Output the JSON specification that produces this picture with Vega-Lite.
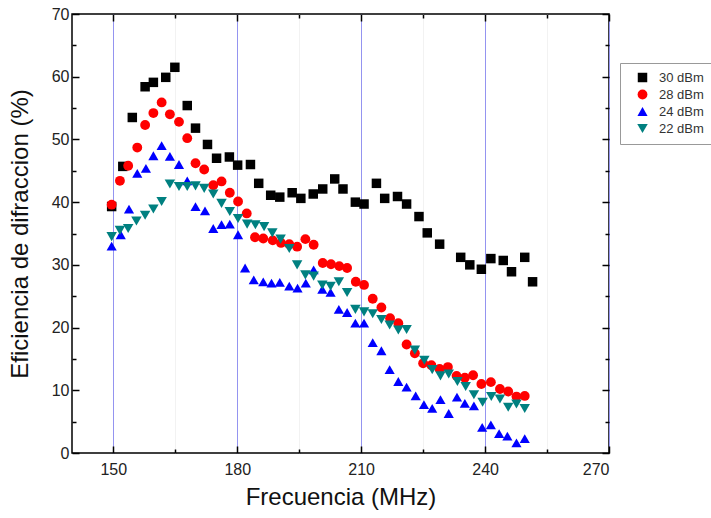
{
  "$schema": "https://vega.github.io/schema/vega-lite/v6.json",
  "width": 537,
  "height": 439,
  "autosize": {"type": "none"},
  "padding": {"left": 72, "top": 14, "right": 102, "bottom": 65},
  "background": "white",
  "config": {
    "view": {"stroke": "black", "strokeWidth": 1.5},
    "font": "Liberation Sans"
  },
  "resolve": {"axis": {"x": "independent", "y": "independent"}},
  "layer": [
    {
      "data": {"values": [
        {"f":149.6,"e":39.3,"s":"30 dBm"},{"f":152.3,"e":45.7,"s":"30 dBm"},{"f":154.6,"e":53.5,"s":"30 dBm"},{"f":157.7,"e":58.4,"s":"30 dBm"},{"f":159.7,"e":59.1,"s":"30 dBm"},{"f":162.7,"e":59.9,"s":"30 dBm"},{"f":164.9,"e":61.5,"s":"30 dBm"},{"f":167.9,"e":55.4,"s":"30 dBm"},{"f":169.9,"e":51.8,"s":"30 dBm"},{"f":172.8,"e":49.2,"s":"30 dBm"},{"f":175.0,"e":47.0,"s":"30 dBm"},{"f":178.1,"e":47.2,"s":"30 dBm"},{"f":180.1,"e":45.9,"s":"30 dBm"},{"f":183.2,"e":46.0,"s":"30 dBm"},{"f":185.2,"e":43.0,"s":"30 dBm"},{"f":188.1,"e":41.1,"s":"30 dBm"},{"f":190.3,"e":40.8,"s":"30 dBm"},{"f":193.3,"e":41.5,"s":"30 dBm"},{"f":195.4,"e":40.6,"s":"30 dBm"},{"f":198.4,"e":41.3,"s":"30 dBm"},{"f":200.7,"e":42.1,"s":"30 dBm"},{"f":203.6,"e":43.7,"s":"30 dBm"},{"f":205.6,"e":42.1,"s":"30 dBm"},{"f":208.6,"e":40.0,"s":"30 dBm"},{"f":210.7,"e":39.7,"s":"30 dBm"},{"f":213.7,"e":43.0,"s":"30 dBm"},{"f":215.7,"e":40.6,"s":"30 dBm"},{"f":218.8,"e":40.9,"s":"30 dBm"},{"f":221.0,"e":39.7,"s":"30 dBm"},{"f":224.0,"e":37.7,"s":"30 dBm"},{"f":226.0,"e":35.1,"s":"30 dBm"},{"f":229.0,"e":33.3,"s":"30 dBm"},{"f":234.1,"e":31.2,"s":"30 dBm"},{"f":236.3,"e":30.0,"s":"30 dBm"},{"f":239.1,"e":29.3,"s":"30 dBm"},{"f":241.4,"e":31.0,"s":"30 dBm"},{"f":244.4,"e":30.7,"s":"30 dBm"},{"f":246.4,"e":28.9,"s":"30 dBm"},{"f":249.6,"e":31.2,"s":"30 dBm"},{"f":251.5,"e":27.3,"s":"30 dBm"},

        {"f":149.6,"e":39.6,"s":"28 dBm"},{"f":151.6,"e":43.4,"s":"28 dBm"},{"f":153.6,"e":45.8,"s":"28 dBm"},{"f":155.8,"e":48.7,"s":"28 dBm"},{"f":157.7,"e":52.3,"s":"28 dBm"},{"f":159.7,"e":54.2,"s":"28 dBm"},{"f":161.7,"e":55.9,"s":"28 dBm"},{"f":163.7,"e":54.0,"s":"28 dBm"},{"f":165.9,"e":52.8,"s":"28 dBm"},{"f":167.9,"e":50.2,"s":"28 dBm"},{"f":169.9,"e":46.2,"s":"28 dBm"},{"f":172.0,"e":45.2,"s":"28 dBm"},{"f":174.2,"e":42.7,"s":"28 dBm"},{"f":176.2,"e":43.3,"s":"28 dBm"},{"f":178.2,"e":41.5,"s":"28 dBm"},{"f":180.2,"e":40.1,"s":"28 dBm"},{"f":182.3,"e":38.2,"s":"28 dBm"},{"f":184.3,"e":34.4,"s":"28 dBm"},{"f":186.3,"e":34.2,"s":"28 dBm"},{"f":188.6,"e":33.9,"s":"28 dBm"},{"f":190.6,"e":33.5,"s":"28 dBm"},{"f":192.6,"e":33.3,"s":"28 dBm"},{"f":194.5,"e":32.9,"s":"28 dBm"},{"f":196.5,"e":34.1,"s":"28 dBm"},{"f":198.5,"e":33.2,"s":"28 dBm"},{"f":200.7,"e":30.3,"s":"28 dBm"},{"f":202.7,"e":30.1,"s":"28 dBm"},{"f":204.7,"e":29.8,"s":"28 dBm"},{"f":206.6,"e":29.5,"s":"28 dBm"},{"f":208.7,"e":27.3,"s":"28 dBm"},{"f":210.7,"e":26.8,"s":"28 dBm"},{"f":212.8,"e":24.6,"s":"28 dBm"},{"f":214.9,"e":23.2,"s":"28 dBm"},{"f":217.0,"e":21.5,"s":"28 dBm"},{"f":219.0,"e":20.7,"s":"28 dBm"},{"f":221.0,"e":17.3,"s":"28 dBm"},{"f":223.0,"e":15.9,"s":"28 dBm"},{"f":225.0,"e":14.3,"s":"28 dBm"},{"f":227.0,"e":14.0,"s":"28 dBm"},{"f":229.0,"e":13.4,"s":"28 dBm"},{"f":231.0,"e":13.7,"s":"28 dBm"},{"f":233.1,"e":12.3,"s":"28 dBm"},{"f":235.1,"e":12.0,"s":"28 dBm"},{"f":237.1,"e":12.4,"s":"28 dBm"},{"f":239.1,"e":11.0,"s":"28 dBm"},{"f":241.4,"e":11.3,"s":"28 dBm"},{"f":243.6,"e":10.2,"s":"28 dBm"},{"f":245.6,"e":9.8,"s":"28 dBm"},{"f":247.6,"e":9.0,"s":"28 dBm"},{"f":249.6,"e":9.1,"s":"28 dBm"},

        {"f":149.6,"e":33.0,"s":"24 dBm"},{"f":151.8,"e":34.8,"s":"24 dBm"},{"f":153.8,"e":38.9,"s":"24 dBm"},{"f":155.8,"e":44.6,"s":"24 dBm"},{"f":157.9,"e":45.4,"s":"24 dBm"},{"f":159.7,"e":47.4,"s":"24 dBm"},{"f":161.7,"e":49.0,"s":"24 dBm"},{"f":163.7,"e":47.3,"s":"24 dBm"},{"f":165.9,"e":46.0,"s":"24 dBm"},{"f":167.9,"e":43.4,"s":"24 dBm"},{"f":169.9,"e":39.3,"s":"24 dBm"},{"f":172.2,"e":38.6,"s":"24 dBm"},{"f":174.2,"e":35.8,"s":"24 dBm"},{"f":176.2,"e":36.4,"s":"24 dBm"},{"f":178.2,"e":36.5,"s":"24 dBm"},{"f":180.2,"e":34.8,"s":"24 dBm"},{"f":181.9,"e":29.5,"s":"24 dBm"},{"f":184.0,"e":27.6,"s":"24 dBm"},{"f":186.3,"e":27.3,"s":"24 dBm"},{"f":188.3,"e":27.1,"s":"24 dBm"},{"f":190.3,"e":27.2,"s":"24 dBm"},{"f":192.6,"e":26.6,"s":"24 dBm"},{"f":194.6,"e":26.3,"s":"24 dBm"},{"f":196.6,"e":27.1,"s":"24 dBm"},{"f":198.5,"e":29.2,"s":"24 dBm"},{"f":200.6,"e":26.1,"s":"24 dBm"},{"f":202.6,"e":25.6,"s":"24 dBm"},{"f":204.6,"e":22.9,"s":"24 dBm"},{"f":206.6,"e":22.4,"s":"24 dBm"},{"f":208.6,"e":20.7,"s":"24 dBm"},{"f":210.7,"e":20.7,"s":"24 dBm"},{"f":212.8,"e":17.6,"s":"24 dBm"},{"f":214.9,"e":16.3,"s":"24 dBm"},{"f":216.9,"e":13.3,"s":"24 dBm"},{"f":219.0,"e":11.4,"s":"24 dBm"},{"f":221.0,"e":10.5,"s":"24 dBm"},{"f":223.2,"e":9.1,"s":"24 dBm"},{"f":225.2,"e":7.7,"s":"24 dBm"},{"f":227.2,"e":7.1,"s":"24 dBm"},{"f":229.2,"e":8.5,"s":"24 dBm"},{"f":231.2,"e":6.3,"s":"24 dBm"},{"f":233.2,"e":8.9,"s":"24 dBm"},{"f":235.1,"e":7.9,"s":"24 dBm"},{"f":237.3,"e":7.5,"s":"24 dBm"},{"f":239.3,"e":4.1,"s":"24 dBm"},{"f":241.4,"e":4.5,"s":"24 dBm"},{"f":243.4,"e":3.1,"s":"24 dBm"},{"f":245.4,"e":2.7,"s":"24 dBm"},{"f":247.6,"e":1.6,"s":"24 dBm"},{"f":249.6,"e":2.3,"s":"24 dBm"},

        {"f":149.6,"e":34.5,"s":"22 dBm"},{"f":151.6,"e":35.5,"s":"22 dBm"},{"f":153.6,"e":35.8,"s":"22 dBm"},{"f":155.6,"e":37.0,"s":"22 dBm"},{"f":157.7,"e":37.9,"s":"22 dBm"},{"f":159.7,"e":38.9,"s":"22 dBm"},{"f":161.7,"e":40.1,"s":"22 dBm"},{"f":163.7,"e":42.9,"s":"22 dBm"},{"f":165.9,"e":42.5,"s":"22 dBm"},{"f":167.9,"e":42.5,"s":"22 dBm"},{"f":169.9,"e":42.6,"s":"22 dBm"},{"f":172.0,"e":42.2,"s":"22 dBm"},{"f":174.2,"e":41.3,"s":"22 dBm"},{"f":176.2,"e":39.8,"s":"22 dBm"},{"f":178.2,"e":38.5,"s":"22 dBm"},{"f":180.2,"e":37.4,"s":"22 dBm"},{"f":182.4,"e":36.5,"s":"22 dBm"},{"f":184.4,"e":36.4,"s":"22 dBm"},{"f":186.5,"e":36.1,"s":"22 dBm"},{"f":188.5,"e":35.1,"s":"22 dBm"},{"f":190.5,"e":34.1,"s":"22 dBm"},{"f":192.6,"e":32.6,"s":"22 dBm"},{"f":194.5,"e":30.0,"s":"22 dBm"},{"f":196.5,"e":28.4,"s":"22 dBm"},{"f":198.5,"e":28.2,"s":"22 dBm"},{"f":200.6,"e":26.8,"s":"22 dBm"},{"f":202.6,"e":26.6,"s":"22 dBm"},{"f":204.6,"e":27.3,"s":"22 dBm"},{"f":206.6,"e":25.6,"s":"22 dBm"},{"f":208.6,"e":22.9,"s":"22 dBm"},{"f":210.7,"e":22.5,"s":"22 dBm"},{"f":212.8,"e":22.2,"s":"22 dBm"},{"f":214.9,"e":21.3,"s":"22 dBm"},{"f":216.9,"e":20.4,"s":"22 dBm"},{"f":219.0,"e":19.6,"s":"22 dBm"},{"f":221.0,"e":19.7,"s":"22 dBm"},{"f":223.0,"e":16.4,"s":"22 dBm"},{"f":225.3,"e":14.8,"s":"22 dBm"},{"f":227.2,"e":13.3,"s":"22 dBm"},{"f":229.2,"e":12.3,"s":"22 dBm"},{"f":231.2,"e":12.6,"s":"22 dBm"},{"f":233.3,"e":11.4,"s":"22 dBm"},{"f":235.3,"e":10.6,"s":"22 dBm"},{"f":237.3,"e":9.3,"s":"22 dBm"},{"f":239.4,"e":8.1,"s":"22 dBm"},{"f":241.5,"e":9.0,"s":"22 dBm"},{"f":243.6,"e":8.6,"s":"22 dBm"},{"f":245.6,"e":7.3,"s":"22 dBm"},{"f":247.6,"e":7.8,"s":"22 dBm"},{"f":249.6,"e":7.1,"s":"22 dBm"}
      ]},
      "mark": {"type": "point", "filled": true, "opacity": 1, "strokeWidth": 0},
      "encoding": {
        "x": {
          "field": "f", "type": "quantitative",
          "scale": {"domain": [140, 270], "nice": false, "zero": false},
          "axis": {
            "orient": "bottom",
            "title": "Frecuencia (MHz)",
            "titleFontSize": 24, "titleFontWeight": "normal", "titleColor": "#111", "titleFont": "Liberation Sans",
            "titlePadding": 8,
            "values": [150, 165, 180, 195, 210, 225, 240, 255, 270],
            "labelExpr": "datum.value % 30 === 0 ? datum.label : ''",
            "labelFontSize": 16, "labelColor": "#222", "labelFont": "Liberation Sans",
            "labelPadding": 15,
            "domain": false,
            "ticks": true,
            "tickColor": "black",
            "tickWidth": 1.5,
            "tickSize": {"condition": {"test": "datum.value % 30 === 0", "value": -7}, "value": -4},
            "grid": true,
            "gridColor": {"condition": {"test": "datum.value % 30 === 0", "value": "#9494f0"}, "value": "#f2f2f2"},
            "gridWidth": 1
          }
        },
        "y": {
          "field": "e", "type": "quantitative",
          "scale": {"domain": [0, 70], "nice": false, "zero": false},
          "axis": {
            "orient": "left",
            "title": "Eficiencia de difraccion (%)",
            "titleFontSize": 24, "titleFontWeight": "normal", "titleColor": "#111", "titleFont": "Liberation Sans",
            "titleX": -52,
            "titleY": 219.5,
            "titleBaseline": "middle",
            "titleAngle": -90,
            "titleAlign": "center",
            "values": [0, 5, 10, 15, 20, 25, 30, 35, 40, 45, 50, 55, 60, 65, 70],
            "labelExpr": "datum.value % 10 === 0 ? datum.label : ''",
            "labelFontSize": 16, "labelColor": "#222", "labelFont": "Liberation Sans",
            "labelPadding": 10,
            "domain": false,
            "tickColor": "black",
            "tickWidth": 1.5,
            "tickSize": {"condition": {"test": "datum.value % 10 === 0", "value": -7}, "value": -4},
            "grid": false
          }
        },
        "color": {
          "field": "s", "type": "nominal",
          "scale": {"domain": ["30 dBm", "28 dBm", "24 dBm", "22 dBm"], "range": ["#000000", "#ff0000", "#0000ff", "#008080"]},
          "legend": {
            "title": null,
            "orient": "none",
            "legendX": 548,
            "legendY": 49,
            "strokeColor": "#999",
            "fillColor": "white",
            "padding": 8,
            "labelFontSize": 13,
            "labelColor": "#333",
            "labelFont": "Liberation Sans",
            "symbolSize": 120,
            "symbolStrokeWidth": 0,
            "symbolOffset": 8,
            "labelOffset": 10,
            "rowPadding": 3
          }
        },
        "shape": {
          "field": "s", "type": "nominal",
          "scale": {"domain": ["30 dBm", "28 dBm", "24 dBm", "22 dBm"], "range": ["square", "circle", "triangle-up", "triangle-down"]},
          "legend": null
        },
        "size": {
          "field": "s", "type": "nominal",
          "scale": {"domain": ["30 dBm", "28 dBm", "24 dBm", "22 dBm"], "range": [90, 110, 190, 190]},
          "legend": null
        }
      }
    },
    {
      "data": {"values": [{"f": 140, "e": 0}]},
      "mark": {"type": "point", "opacity": 0},
      "encoding": {
        "x": {
          "field": "f", "type": "quantitative",
          "scale": {"domain": [140, 270], "nice": false, "zero": false},
          "axis": {
            "orient": "top", "title": null, "labels": false, "domain": false, "grid": false,
            "values": [150, 165, 180, 195, 210, 225, 240, 255, 270],
            "tickColor": "black", "tickWidth": 1.5,
            "tickSize": {"condition": {"test": "datum.value % 30 === 0", "value": -7}, "value": -4}
          }
        },
        "y": {
          "field": "e", "type": "quantitative",
          "scale": {"domain": [0, 70], "nice": false, "zero": false},
          "axis": {
            "orient": "right", "title": null, "labels": false, "domain": false, "grid": false,
            "values": [0, 5, 10, 15, 20, 25, 30, 35, 40, 45, 50, 55, 60, 65, 70],
            "tickColor": "black", "tickWidth": 1.5,
            "tickSize": {"condition": {"test": "datum.value % 10 === 0", "value": -7}, "value": -4}
          }
        }
      }
    }
  ]
}
